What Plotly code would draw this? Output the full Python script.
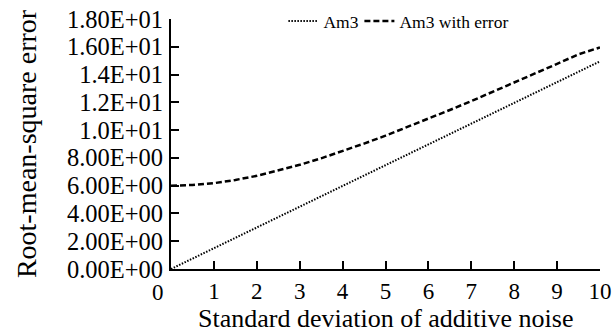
import plotly.graph_objects as go

x_noise = [0, 0.5, 1, 1.5, 2, 2.5, 3, 3.5, 4, 4.5, 5, 5.5, 6, 6.5, 7, 7.5, 8, 8.5, 9, 9.5, 10]
am3 = [0, 0.75, 1.5, 2.25, 3.0, 3.75, 4.5, 5.25, 6.0, 6.75, 7.5, 8.25, 9.0, 9.75, 10.5, 11.25, 12.0, 12.75, 13.5, 14.25, 14.95]
am3_err = [6.0, 6.05, 6.18, 6.41, 6.71, 7.08, 7.5, 7.97, 8.49, 9.03, 9.6, 10.2, 10.82, 11.45, 12.09, 12.75, 13.42, 14.09, 14.77, 15.46, 15.95]

y_tickvals = [0, 2, 4, 6, 8, 10, 12, 14, 16, 18]
y_ticktext = ["0.00E+00", "2.00E+00", "4.00E+00", "6.00E+00", "8.00E+00",
              "1.0E+01", "1.2E+01", "1.4E+01", "1.60E+01", "1.80E+01"]
x_tickvals = [1, 2, 3, 4, 5, 6, 7, 8, 9, 10]
x_ticktext = ["1", "2", "3", "4", "5", "6", "7", "8", "9", "10"]
x_title = "Standard deviation of additive noise"
y_title = "Root-mean-square error"

FONT = "Liberation Serif"

fig = go.Figure()
fig.add_trace(go.Scatter(x=x_noise, y=am3, mode="lines", name="Am3", legendwidth=31,
                         line=dict(color="black", width=2, dash="1.5px,1.5px")))
fig.add_trace(go.Scatter(x=x_noise, y=am3_err, mode="lines", name="Am3 with error", legendwidth=125,
                         line=dict(color="black", width=2.5, dash="6px,3px")))

fig.update_layout(
    width=613, height=336,
    margin=dict(l=171, r=13, t=19, b=67, autoexpand=False),
    paper_bgcolor="white", plot_bgcolor="white",
    font=dict(family=FONT, color="black", size=23),
    showlegend=True,
    legend=dict(orientation="h", x=0.262, y=0.992, xanchor="left", yanchor="middle",
                font=dict(size=17.5, family=FONT), bgcolor="rgba(0,0,0,0)",
                itemwidth=30, tracegroupgap=0),
    xaxis=dict(range=[0, 10], tickvals=x_tickvals, ticktext=x_ticktext,
               ticks="inside", ticklen=8, tickwidth=2, tickcolor="black",
               showline=True, linecolor="black", linewidth=2, showgrid=False, zeroline=False,
               tickfont=dict(size=23, family=FONT)),
    yaxis=dict(range=[0, 18], tickvals=y_tickvals, ticktext=y_ticktext,
               ticks="inside", ticklen=8, tickwidth=2, tickcolor="black",
               showline=True, linecolor="black", linewidth=2, showgrid=False, zeroline=False,
               tickfont=dict(size=24.5, family=FONT), ticklabelstandoff=1,
               title=dict(text=y_title, font=dict(size=28, family=FONT), standoff=22)),
)
fig.add_annotation(text=x_title, xref="paper", yref="paper", x=0.5, y=-0.13,
                   xanchor="center", yanchor="top", showarrow=False,
                   font=dict(size=26, family=FONT, color="black"))
fig.add_annotation(text="0", xref="paper", yref="paper", x=-0.03, y=-0.036,
                   xanchor="center", yanchor="top", showarrow=False,
                   font=dict(size=23, family=FONT, color="black"))

fig.write_html("out.html")
